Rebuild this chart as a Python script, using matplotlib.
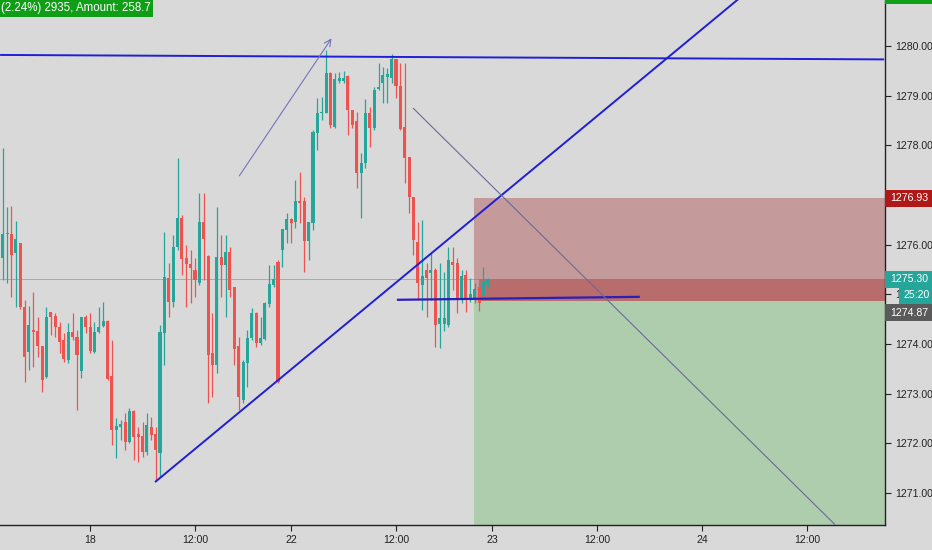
import numpy as np
import matplotlib
matplotlib.use('Agg')
import matplotlib.pyplot as plt
from matplotlib.patches import Rectangle
from matplotlib.transforms import blended_transform_factory

# 30 minute candles
opens = [1275.73, 1276.21, 1276.21, 1275.83, 1276.03, 1274.74, 1273.84, 1274.28, 1274.26, 1273.94,
         1273.34, 1274.64, 1274.56, 1274.34, 1274.08, 1273.68, 1274.24, 1274.14, 1273.46, 1274.54,
         1274.34, 1273.84, 1274.24, 1274.36, 1274.46, 1273.34, 1272.27, 1272.33, 1272.41, 1272.03,
         1272.65, 1272.17, 1272.13, 1271.83, 1272.31, 1272.17, 1271.81, 1274.22, 1275.31, 1274.85,
         1275.95, 1276.52, 1275.73, 1275.61, 1275.49, 1275.23, 1276.44, 1275.77, 1273.80, 1273.58,
         1275.75, 1275.59, 1275.85, 1275.13, 1273.94, 1272.87, 1273.62, 1274.12, 1274.62, 1274.02,
         1274.10, 1274.81, 1275.19, 1275.65, 1275.89, 1276.30, 1276.50, 1276.46, 1276.86, 1276.86,
         1276.07, 1276.44, 1278.25, 1278.65, 1278.65, 1279.44, 1278.37, 1279.30, 1279.30, 1279.38,
         1278.71, 1278.47, 1277.44, 1277.64, 1278.65, 1278.35, 1279.13, 1279.26, 1279.38, 1279.36,
         1279.72, 1279.19, 1278.35, 1277.76, 1276.94, 1276.05, 1275.19, 1275.49, 1275.43, 1275.49,
         1274.40, 1274.40, 1274.38, 1275.65, 1275.63, 1274.89, 1275.37, 1274.89, 1274.93, 1275.13,
         1274.99, 1275.22]
highs = [1277.95, 1276.76, 1276.78, 1276.48, 1276.03, 1274.89, 1274.76, 1275.05, 1274.54, 1273.94,
         1274.74, 1274.64, 1274.62, 1274.44, 1274.22, 1274.42, 1274.62, 1274.28, 1274.54, 1274.58,
         1274.62, 1274.44, 1274.74, 1274.85, 1274.48, 1274.08, 1272.51, 1272.47, 1272.61, 1272.71,
         1272.67, 1272.33, 1272.43, 1272.61, 1272.53, 1272.33, 1274.38, 1276.25, 1275.63, 1276.19,
         1277.75, 1276.60, 1275.99, 1275.89, 1275.73, 1277.04, 1277.04, 1275.79, 1274.62, 1276.76,
         1276.19, 1276.19, 1275.95, 1275.15, 1274.14, 1273.68, 1274.28, 1274.72, 1274.64, 1274.54,
         1274.85, 1275.59, 1275.59, 1275.69, 1276.30, 1276.64, 1276.54, 1277.30, 1277.46, 1276.96,
         1276.46, 1278.31, 1278.95, 1278.97, 1279.92, 1279.48, 1279.46, 1279.48, 1279.50, 1279.42,
         1278.71, 1278.67, 1277.85, 1278.93, 1278.77, 1279.17, 1279.66, 1279.58, 1279.56, 1279.84,
         1279.72, 1279.66, 1279.66, 1277.76, 1276.94, 1276.46, 1276.50, 1275.63, 1275.83, 1275.53,
         1275.63, 1275.45, 1275.95, 1275.95, 1275.73, 1275.49, 1275.49, 1275.33, 1275.23, 1275.17,
         1275.55, 1275.33]
lows = [1275.29, 1275.23, 1274.95, 1274.74, 1274.70, 1273.24, 1273.48, 1273.54, 1273.74, 1273.03,
        1273.32, 1274.18, 1274.14, 1273.82, 1273.64, 1273.62, 1274.08, 1272.67, 1273.32, 1274.22,
        1273.82, 1273.82, 1274.22, 1274.34, 1273.28, 1271.97, 1271.71, 1272.07, 1271.87, 1272.01,
        1271.67, 1271.62, 1271.73, 1271.77, 1272.07, 1271.26, 1271.32, 1273.58, 1274.54, 1274.74,
        1275.89, 1275.39, 1274.74, 1274.83, 1274.95, 1275.19, 1275.29, 1272.81, 1272.93, 1273.42,
        1274.95, 1274.54, 1274.95, 1273.58, 1272.67, 1272.81, 1273.13, 1274.08, 1273.94, 1273.98,
        1274.08, 1274.74, 1275.15, 1273.22, 1275.55, 1276.03, 1276.03, 1276.34, 1276.44, 1275.45,
        1275.69, 1276.30, 1277.91, 1278.51, 1278.65, 1278.35, 1278.35, 1279.26, 1279.26, 1278.21,
        1278.35, 1277.14, 1276.54, 1277.54, 1277.97, 1278.31, 1279.11, 1278.85, 1278.85, 1279.26,
        1278.95, 1278.31, 1277.24, 1276.64, 1275.79, 1274.89, 1274.69, 1274.54, 1274.89, 1273.94,
        1273.92, 1274.26, 1274.34, 1275.09, 1274.62, 1274.83, 1274.65, 1274.85, 1274.83, 1274.67,
        1274.93, 1275.15]
closes = [1276.21, 1276.22, 1275.79, 1276.11, 1274.74, 1273.74, 1274.38, 1274.24, 1273.96, 1273.28,
          1274.54, 1274.54, 1274.34, 1274.04, 1273.70, 1274.24, 1274.14, 1273.78, 1274.54, 1274.34,
          1273.86, 1274.24, 1274.34, 1274.46, 1273.30, 1272.27, 1272.33, 1272.37, 1272.03, 1272.65,
          1272.13, 1272.13, 1271.83, 1272.35, 1272.17, 1271.87, 1274.24, 1275.33, 1274.85, 1275.95,
          1276.52, 1275.71, 1275.61, 1275.53, 1275.29, 1276.44, 1276.11, 1273.78, 1273.58, 1275.75,
          1275.59, 1275.85, 1275.09, 1273.90, 1272.93, 1273.62, 1274.12, 1274.62, 1274.02, 1274.12,
          1274.81, 1275.19, 1275.29, 1273.24, 1276.30, 1276.50, 1276.44, 1276.86, 1276.84, 1276.07,
          1276.44, 1278.25, 1278.65, 1278.67, 1279.44, 1278.41, 1279.32, 1279.34, 1279.34, 1278.71,
          1278.41, 1277.44, 1277.64, 1278.65, 1278.35, 1279.11, 1279.17, 1279.40, 1279.42, 1279.72,
          1279.19, 1278.33, 1277.74, 1276.96, 1276.09, 1275.23, 1275.35, 1275.33, 1275.47, 1274.38,
          1274.52, 1274.52, 1275.69, 1275.59, 1274.89, 1275.35, 1274.93, 1274.99, 1275.09, 1274.83,
          1275.23, 1275.30]

# time axis labels (bar index where they sit)
time_ticks = [20, 44, 66, 90, 112, 136, 160, 184]
time_labels = ['18', '12:00', '22', '12:00', '23', '12:00', '24', '12:00']
price_ticks = [1271, 1272, 1273, 1274, 1275, 1276, 1277, 1278, 1279, 1280]
hidden_ticks = [1277]  # sits under the stop tag

# drawings on the chart (bar index, price)
resistance = [(-0.6, 1279.82), (201.7, 1279.73)]
trend_line = [(34.85, 1271.22), (168.7, 1280.97)]
entry_line = [(90.2, 1274.89), (145.8, 1274.95)]
up_arrow = [(53.8, 1277.34), (75.6, 1280.20)]
down_line = [(93.9, 1278.75), (190.5, 1270.36)]

entry_price = 1274.87
stop_price = 1276.93
last_price = 1275.30
pos_start = 107.85
top_label = '(2.24%) 2935, Amount: 258.7'

BG = '#d9d9d9'
UP = '#26a69a'
DOWN = '#ef5350'
FONT = ['Liberation Sans', 'DejaVu Sans']

fig = plt.figure(figsize=(9.32, 5.5), dpi=100)
fig.patch.set_facecolor(BG)
ax = fig.add_axes([0, 25 / 550, 885 / 932, 525 / 550])
ax.set_facecolor(BG)

x = np.arange(len(opens))
o = np.array(opens)
c = np.array(closes)
h = np.array(highs)
l = np.array(lows)
cols = np.where(c >= o, UP, DOWN)

# short position tool: stop zone, target zone, open loss band
ax.add_patch(Rectangle((pos_start, entry_price), 300, stop_price - entry_price,
                       facecolor='#c59a9a', lw=0, zorder=1))
ax.add_patch(Rectangle((pos_start, 1260), 300, entry_price - 1260,
                       facecolor='#aecdac', lw=0, zorder=1))
ax.add_patch(Rectangle((pos_start + 1.2, entry_price), 300, last_price - entry_price,
                       facecolor='#b96c6c', lw=0, zorder=1.1))

# current price line
ax.axhline(last_price, color=UP, lw=0.6, alpha=0.6, zorder=1.5)

ax.vlines(x, l, h, colors=cols, lw=0.9, zorder=3)
ax.bar(x, np.abs(c - o) + 0.01, bottom=np.minimum(o, c), width=0.7,
       color=cols, lw=0, zorder=3.5)

blue = '#1f1fd6'
for pts, kw in [(resistance, dict(color=blue, lw=1.4)),
                (trend_line, dict(color=blue, lw=1.4)),
                (entry_line, dict(color='#2a1fb8', lw=1.6)),
                (down_line, dict(color='#6a6a96', lw=0.8))]:
    xs, ys = zip(*pts)
    ax.plot(xs, ys, zorder=4, solid_capstyle='butt', **kw)

ax.annotate('', xy=up_arrow[1], xytext=up_arrow[0],
            arrowprops=dict(arrowstyle='->', color='#7474bb', lw=0.8,
                            mutation_scale=12), zorder=4)

ax.set_xlim(-0.62, 201.9)
ax.set_ylim(1270.356, 1280.926)

for s in ['top', 'left']:
    ax.spines[s].set_visible(False)
for s in ['right', 'bottom']:
    ax.spines[s].set_color('#222222')
    ax.spines[s].set_linewidth(1.0)

ax.yaxis.tick_right()
ax.set_yticks(price_ticks)
ax.set_yticklabels(['' if p in hidden_ticks else '%.2f' % p for p in price_ticks],
                   family=FONT, fontsize=7.6, color='#222222')
ax.set_xticks(time_ticks)
ax.set_xticklabels(time_labels, family=FONT, fontsize=7.6, color='#222222')
ax.tick_params(axis='both', length=4, width=0.8, color='#222222', pad=3)

# price tags on the right scale
tf = blended_transform_factory(fig.transFigure, ax.transData)
box_h = 17 / 49.67
tags = [(stop_price, '1276.93', '#b01818', 885 / 932, 47 / 932),
        (last_price, '1275.30', UP, 885 / 932, 47 / 932),
        (last_price - 16 / 49.67, '25:20', UP, 899 / 932, 33 / 932),
        (entry_price - 12 / 49.67, '1274.87', '#5a5a5a', 885 / 932, 47 / 932),
        (1281.016, '', '#10a018', 885 / 932, 47 / 932)]
for yv, txt, col, x0, w in tags:
    ax.add_patch(Rectangle((x0, yv - box_h / 2), w, box_h, transform=tf,
                           facecolor=col, lw=0, clip_on=False, zorder=6))
    if txt:
        ax.text(x0 + w / 2 + 1 / 932, yv, txt, transform=tf, ha='center',
                va='center', color='white', fontsize=7.6, family=FONT,
                zorder=7, clip_on=False)

# order info label at top left
fig.add_artist(Rectangle((0, 1 - 17 / 550), 153 / 932, 17 / 550,
                         transform=fig.transFigure, facecolor='#0f9e16', lw=0,
                         zorder=8))
fig.text(1 / 932, 1 - 8.5 / 550, top_label, color='white', fontsize=8.3,
         family=FONT, va='center', ha='left', zorder=9)

fig.savefig('out.png', dpi=100, facecolor=BG)
